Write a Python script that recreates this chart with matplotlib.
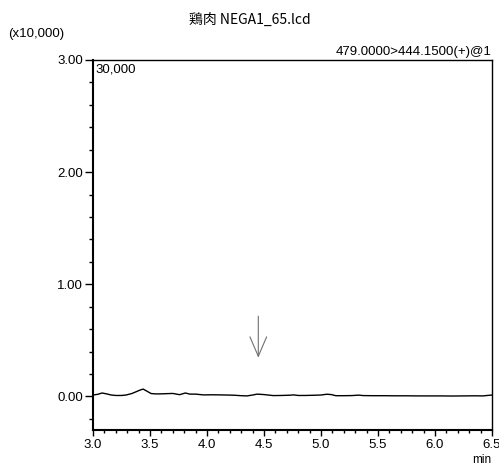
import matplotlib
matplotlib.use("Agg")
import matplotlib.pyplot as plt
from matplotlib.ticker import MultipleLocator

# data (retention time in min, intensity in x10,000)
time_min = [3.00, 3.04, 3.08, 3.12, 3.16, 3.20, 3.25, 3.29, 3.34, 3.38, 3.41, 3.44, 3.47,
            3.51, 3.55, 3.59, 3.64, 3.70, 3.76, 3.81, 3.85, 3.90, 3.97, 4.05, 4.12, 4.17,
            4.24, 4.30, 4.35, 4.40, 4.44, 4.50, 4.58, 4.65, 4.72, 4.76, 4.80, 4.86, 4.94,
            5.00, 5.05, 5.09, 5.13, 5.20, 5.27, 5.33, 5.37, 5.45, 5.55, 5.65, 5.75, 5.85,
            5.95, 6.05, 6.15, 6.25, 6.35, 6.42, 6.50]
intensity = [0.012, 0.018, 0.030, 0.022, 0.012, 0.008, 0.008, 0.012, 0.025, 0.042, 0.055, 0.065, 0.048,
             0.025, 0.022, 0.022, 0.024, 0.026, 0.015, 0.030, 0.020, 0.020, 0.013, 0.014, 0.013, 0.012,
             0.010, 0.006, 0.004, 0.012, 0.020, 0.016, 0.007, 0.008, 0.010, 0.013, 0.008, 0.008, 0.010,
             0.012, 0.019, 0.016, 0.006, 0.006, 0.007, 0.011, 0.007, 0.006, 0.006, 0.005, 0.005, 0.004,
             0.004, 0.004, 0.003, 0.004, 0.005, 0.004, 0.012]
arrow_x = 4.45
arrow_top = 0.74
arrow_tip = 0.32

xlim = (3.0, 6.5)
ylim = (-0.30, 3.00)
xticks = [3.0, 3.5, 4.0, 4.5, 5.0, 5.5, 6.0, 6.5]
yticks = [0.0, 1.0, 2.0, 3.0]

title = "鶏肉 NEGA1_65.lcd"
channel = "479.0000>444.1500(+)@1"
scale_label = "(x10,000)"
max_label = "30,000"

FS = 9.5
fig = plt.figure(figsize=(4.99, 4.66), dpi=100)
ax = fig.add_axes([93/499, 36/466, 399/499, 370/466])
ax.plot(time_min, intensity, color="black", lw=1.0)
ax.set_xlim(*xlim)
ax.set_ylim(*ylim)
ax.set_xticks(xticks)
ax.set_xticklabels([f"{v:.1f}" for v in xticks])
ax.set_yticks(yticks)
ax.set_yticklabels([f"{v:.2f}" for v in yticks])
ax.xaxis.set_minor_locator(MultipleLocator(0.1))
ax.yaxis.set_minor_locator(MultipleLocator(0.2))
ax.tick_params(axis="y", which="major", direction="out", length=6, width=1, labelsize=FS, pad=1)
ax.tick_params(axis="y", which="minor", direction="out", length=3, width=1)
ax.tick_params(axis="x", which="major", direction="out", length=4.5, width=1, labelsize=FS, pad=2)
ax.tick_params(axis="x", which="minor", direction="out", length=2.5, width=1)
for lab in ax.get_xticklabels() + ax.get_yticklabels():
    lab.set_family("Liberation Sans")
for s in ax.spines.values():
    s.set_linewidth(1.0)
ax.spines["left"].set_linewidth(1.5)
ax.spines["bottom"].set_linewidth(1.5)

ax.annotate("", xy=(arrow_x, arrow_tip), xytext=(arrow_x, arrow_top),
            arrowprops=dict(arrowstyle="->,head_length=1.4,head_width=0.6", color="#707070", lw=0.8))

fig.text(250/499, 1 - 20/466, title, ha="center", va="center", fontsize=10,
         family=["Noto Sans CJK JP", "DejaVu Sans"])
fig.text(8/499, 1 - 34/466, scale_label, ha="left", va="center", fontsize=FS, family="Liberation Sans")
ax.text(1.0, 1.005, channel, transform=ax.transAxes, ha="right", va="bottom", fontsize=FS,
        family="Liberation Sans")
ax.text(0.005, 0.99, max_label, transform=ax.transAxes, ha="left", va="top", fontsize=FS,
        family="Liberation Sans")
fig.text(482/499, 1 - 460/466, "min", ha="center", va="center", fontsize=8.5, family="Liberation Sans")

fig.savefig("out.png", dpi=100)
